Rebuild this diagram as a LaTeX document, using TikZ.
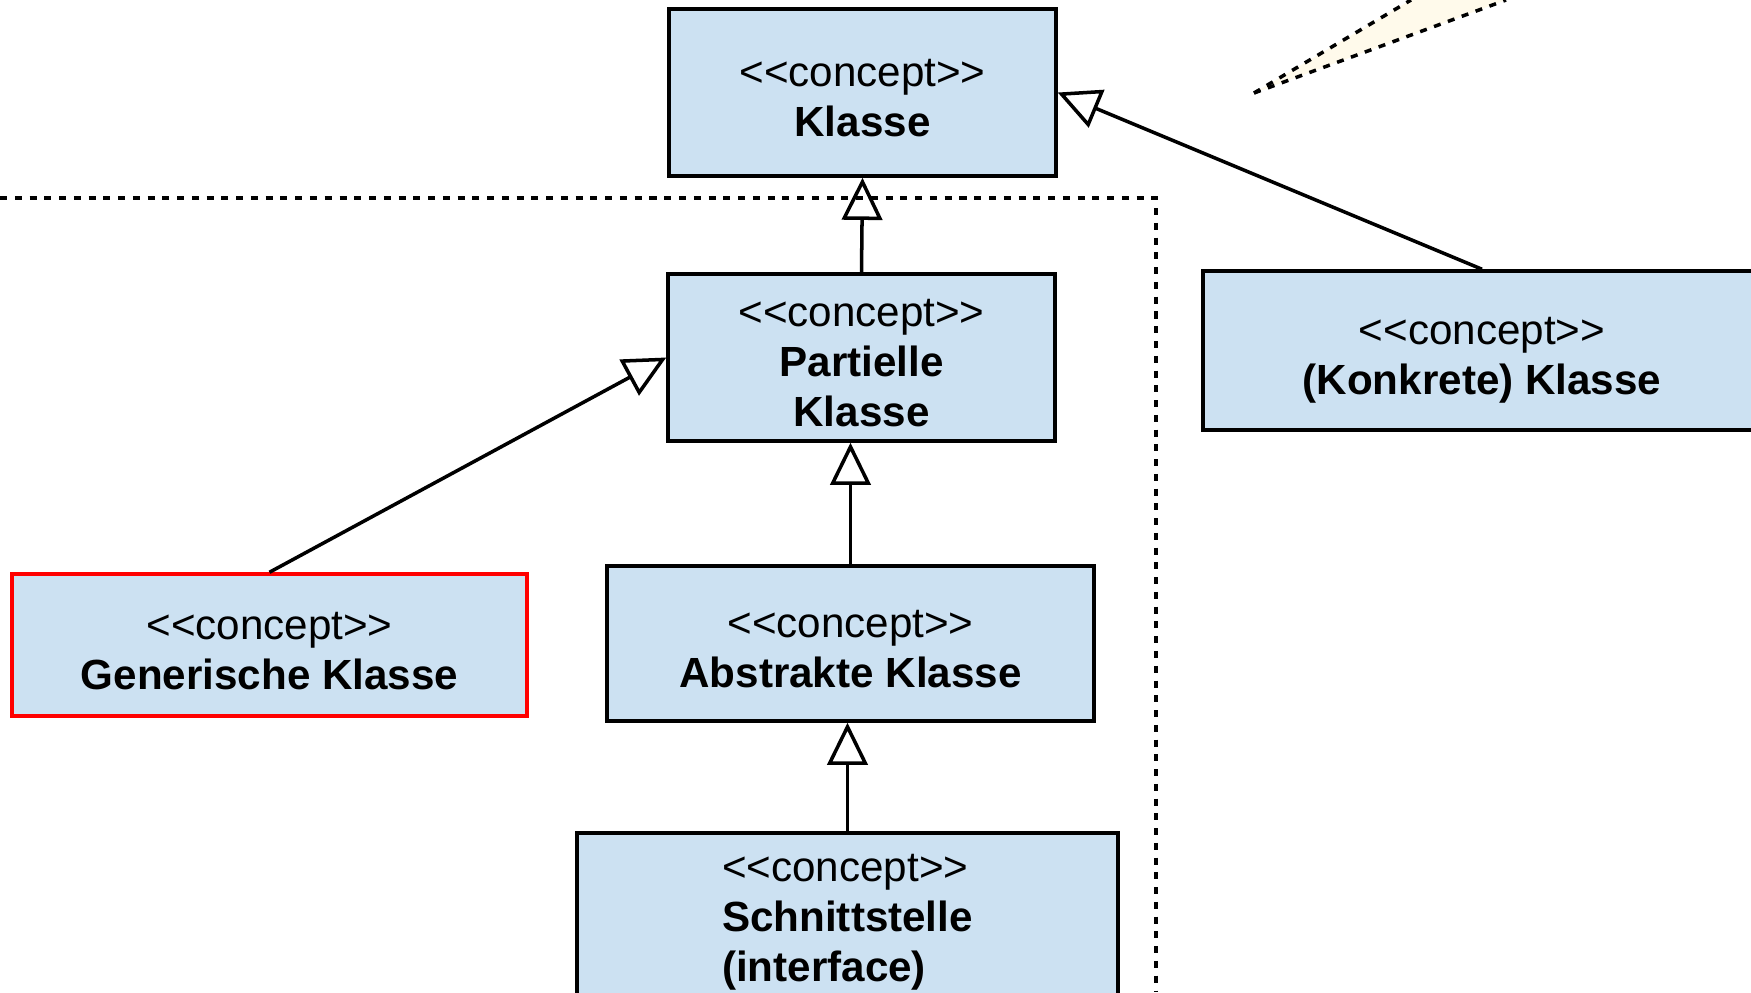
\documentclass[tikz,border=0pt]{standalone}
\usepackage{fontspec}
\setmainfont{Liberation Sans}
\usetikzlibrary{arrows.meta}
\definecolor{conceptblue}{RGB}{204,225,242}
\definecolor{notecream}{RGB}{255,250,235}
\newcommand{\stereo}[1][11pt]{\rule{0pt}{#1}<{}<concept>{}>}
\tikzset{
  concept/.style={draw, line width=1pt, fill=conceptblue, align=center,
    inner sep=0pt, font=\fontsize{12}{14.2}\selectfont},
  inherit/.style={line width=1pt, -{Triangle[open, length=12pt, width=11.5pt]}},
  bound/.style={line width=1pt, dash pattern=on 2pt off 2.2pt}
}
\begin{document}
\begin{tikzpicture}
        \useasboundingbox (0,0) rectangle (17.51,-9.92);
        % note callout (cut off at the top)
        \coordinate (tip) at (12.54,-0.93);
        \fill[notecream] (tip) -- (14.11,0) -- (15.06,0) -- cycle;
        \draw[bound] (tip) -- (14.11,0);
        \draw[bound] (tip) -- (15.06,0);
        % boundary of the partial concepts
        \draw[bound] (0,-1.98) -- (11.56,-1.98) -- (11.56,-9.92);

        \node[concept, minimum width=3.87cm, minimum height=1.67cm] (klasse) at (8.625,-0.925)
          {\stereo\\\textbf{Klasse}};
        \node[concept, minimum width=3.87cm, minimum height=1.67cm] (partielle) at (8.615,-3.575)
          {\stereo\\\textbf{Partielle}\\\textbf{Klasse}};
        \node[concept, minimum width=5.58cm, minimum height=1.59cm] (konkret) at (14.82,-3.505)
          {\stereo[13.5pt]\\\textbf{(Konkrete) Klasse}};
        \node[concept, draw=red, minimum width=5.15cm, minimum height=1.42cm] (generisch) at (2.695,-6.45)
          {\stereo\\\textbf{Generische Klasse}};
        \node[concept, minimum width=4.87cm, minimum height=1.55cm] (abstrakt) at (8.505,-6.435)
          {\stereo\\\textbf{Abstrakte Klasse}};
        \node[concept, align=left, minimum width=5.41cm, minimum height=1.63cm] (schnitt) at (8.475,-9.145)
          {\stereo[12pt]\\\textbf{Schnittstelle}\\\textbf{(interface)}};

        \draw[inherit] (konkret.north) -- (klasse.east);
        \draw[inherit] (partielle.north) -- (klasse.south);
        \draw[inherit] (generisch.north) -- (partielle.west);
        \draw[inherit] (abstrakt.north) -- (abstrakt.north |- partielle.south);
        \draw[inherit] (schnitt.north) -- (schnitt.north |- abstrakt.south);
\end{tikzpicture}
\end{document}
